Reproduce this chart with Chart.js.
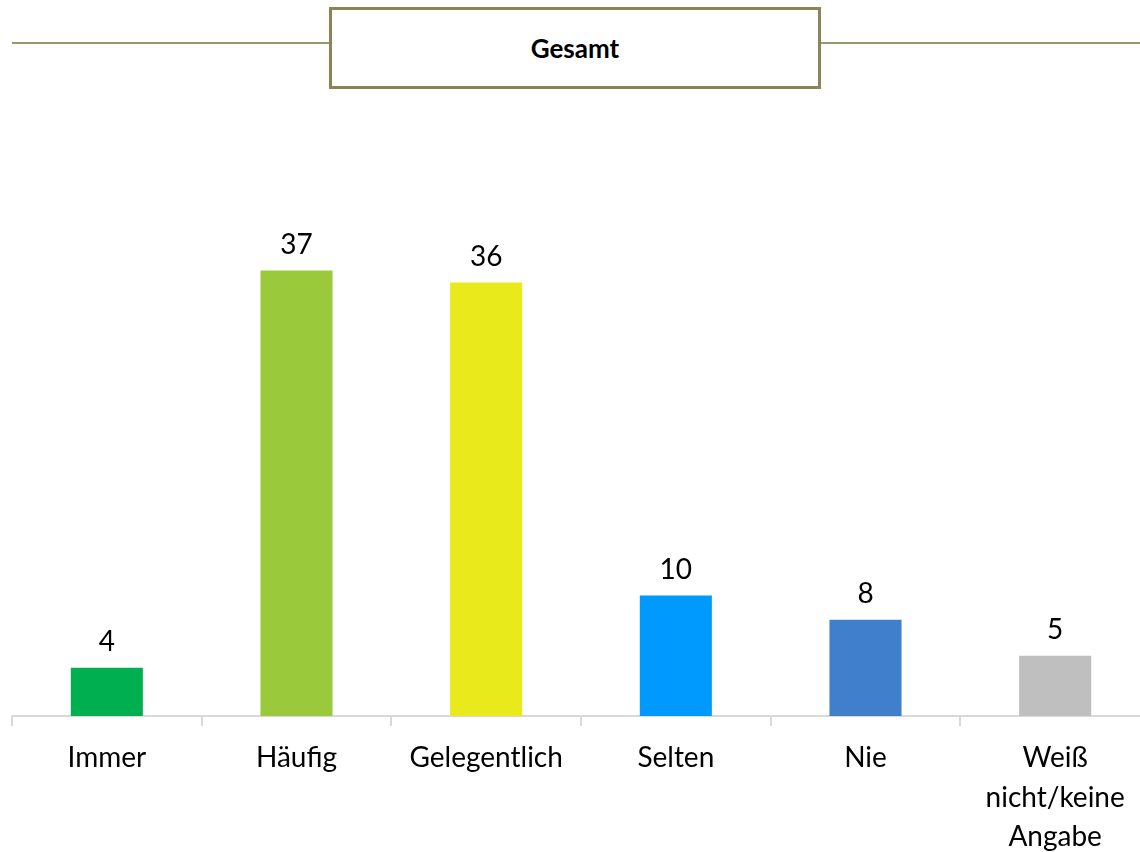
<!DOCTYPE html>
<html lang="de">
<head>
    <meta charset="UTF-8">
    <title>Gesamt</title>
    <script src="https://cdn.jsdelivr.net/npm/chart.js"></script>
    <style>
        body {
            margin: 0;
            background: #ffffff;
            font-family: 'Lato', sans-serif;
            overflow: hidden;
        }
        .wrap {
            position: relative;
            width: 1150px;
            height: 852px;
        }
        .rule {
            position: absolute;
            top: 42px;
            height: 2px;
            background: #9a9670;
        }
        .title-box {
            position: absolute;
            left: 329px;
            top: 7px;
            width: 486px;
            height: 76px;
            border: 3px solid #8c8456;
            background: #fff;
            display: flex;
            align-items: center;
            justify-content: center;
            font-weight: 700;
            font-size: 26px;
            color: #000;
        }
        .chart-box {
            position: absolute;
            left: 0;
            top: 0;
            width: 1150px;
            height: 852px;
        }
    </style>
</head>
<body>
    <div class="wrap">
        <div class="chart-box"><canvas id="chart"></canvas></div>
        <div class="rule" style="left:12px;width:318px"></div>
        <div class="rule" style="left:820px;width:330px"></div>
        <div class="title-box">Gesamt</div>
    </div>

    <script>
        const categories = ['Immer', 'Häufig', 'Gelegentlich', 'Selten', 'Nie', ['Weiß', 'nicht/keine', 'Angabe']];
        const values = [4, 37, 36, 10, 8, 5];
        const barColors = ['#00b050', '#9aca3c', '#e9ea1b', '#009aff', '#3f7fcc', '#bfbfbf'];

        // value labels above the bars
        const valueLabels = {
            id: 'valueLabels',
            afterDatasetsDraw(chart) {
                const ctx = chart.ctx;
                const meta = chart.getDatasetMeta(0);
                ctx.save();
                ctx.font = '28px Lato, sans-serif';
                ctx.fillStyle = '#000';
                ctx.textAlign = 'center';
                ctx.textBaseline = 'bottom';
                meta.data.forEach((bar, i) => {
                    ctx.fillText(values[i], bar.x, bar.y - 12);
                });
                ctx.restore();
            }
        };

        new Chart(document.getElementById('chart'), {
            type: 'bar',
            data: {
                labels: categories,
                datasets: [{
                    data: values,
                    backgroundColor: barColors,
                    barPercentage: 0.38,
                    categoryPercentage: 1
                }]
            },
            options: {
                responsive: true,
                maintainAspectRatio: false,
                animation: false,
                layout: { padding: { top: 114, left: 12, right: 0, bottom: 0 } },
                plugins: {
                    legend: { display: false },
                    tooltip: { enabled: false }
                },
                scales: {
                    x: {
                        afterFit(scale) { scale.height = 136; },
                        grid: {
                            offset: true,
                            drawOnChartArea: false,
                            tickLength: 10,
                            color: '#d9d9d9',
                            lineWidth: 2
                        },
                        border: { color: '#d9d9d9', width: 2 },
                        ticks: {
                            color: '#000',
                            padding: 12,
                            maxRotation: 0,
                            autoSkip: false,
                            font: { family: 'Lato', size: 28, lineHeight: 1.42 }
                        }
                    },
                    y: {
                        display: false,
                        min: 0,
                        max: 50
                    }
                }
            },
            plugins: [valueLabels]
        });
    </script>
</body>
</html>
